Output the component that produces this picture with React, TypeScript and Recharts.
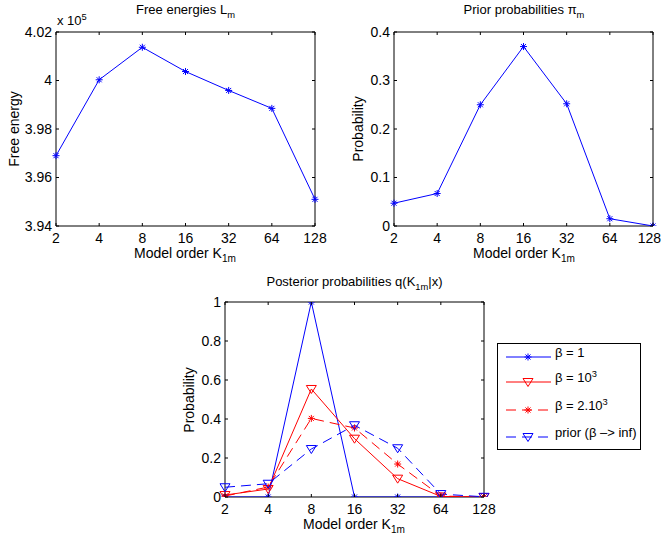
import React from 'react';
import { LineChart, Line, XAxis, YAxis, ReferenceArea, Legend } from 'recharts';

// model orders on the (log2-spaced) x axis
const modelOrders = ['2', '4', '8', '16', '32', '64', '128'];

// free energies, in units of 1e5
const freeEnergies = [3.969, 4.0003, 4.0137, 4.0037, 3.9959, 3.9885, 3.951];
const energyTicks = [3.94, 3.96, 3.98, 4, 4.02];

// prior probabilities pi_m
const priorProbs = [0.047, 0.067, 0.25, 0.37, 0.252, 0.015, 0.0];
const priorTicks = [0, 0.1, 0.2, 0.3, 0.4];

// posterior probabilities q(K|x)
const postBeta1 = [0, 0, 1, 0, 0, 0, 0];
const postBeta1e3 = [0.01, 0.041, 0.554, 0.299, 0.094, 0.003, 0];
const postBeta2e3 = [0.005, 0.051, 0.403, 0.354, 0.169, 0.005, 0];
const postPrior = [0.05, 0.068, 0.246, 0.368, 0.25, 0.015, 0.001];
const postTicks = [0, 0.2, 0.4, 0.6, 0.8, 1];

const BLUE = '#0000ff';
const RED = '#ff0000';
const FONT = '"Liberation Sans", Arial, Helvetica, sans-serif';
const FS = 14;
const TICK_LEN = 3;

const posteriorSeries = [
  { key: 'b1', name: 'β = 1', color: BLUE, dash: undefined, marker: 'star' },
  { key: 'b1e3', name: 'β = 10^{3}', color: RED, dash: undefined, marker: 'tri' },
  { key: 'b2e3', name: 'β = 2.10^{3}', color: RED, dash: '10 6', marker: 'star' },
  { key: 'prior', name: 'prior (β –> inf)', color: BLUE, dash: '10 6', marker: 'tri' },
];

const energyData = modelOrders.map((k, i) => ({ k, L: freeEnergies[i] }));
const priorData = modelOrders.map((k, i) => ({ k, p: priorProbs[i] }));
const postData = modelOrders.map((k, i) => ({
  k,
  b1: postBeta1[i],
  b1e3: postBeta1e3[i],
  b2e3: postBeta2e3[i],
  prior: postPrior[i],
}));

// tex-ish text: _{..} subscript, ^{..} superscript
function rich(text: string, size: number) {
  const parts = text.split(/([_^]\{[^}]*\})/).filter(Boolean);
  let cur = 0;
  return parts.map((p, i) => {
    let target = 0;
    let content = p;
    let fs = size;
    if (p[0] === '_' || p[0] === '^') {
      target = p[0] === '_' ? size * 0.3 : -size * 0.42;
      content = p.slice(2, -1);
      fs = size * 0.72;
    }
    const dy = target - cur;
    cur = target;
    return (
      <tspan key={i} dy={dy} fontSize={fs}>
        {content}
      </tspan>
    );
  });
}

const Star = ({ cx, cy, color }: any) => {
  const r = 3.5;
  const d = r * 0.72;
  return (
    <path
      d={`M${cx - r},${cy}H${cx + r}M${cx},${cy - r}V${cy + r}M${cx - d},${cy - d}L${cx + d},${cy + d}M${cx - d},${cy + d}L${cx + d},${cy - d}`}
      stroke={color}
      strokeWidth={1}
      fill="none"
    />
  );
};

const TriDown = ({ cx, cy, color }: any) => (
  <path d={`M${cx - 5},${cy - 3.5}L${cx + 5},${cy - 3.5}L${cx},${cy + 4.5}Z`} stroke={color} strokeWidth={1} fill="none" />
);

const Marker = ({ kind, ...rest }: any) => (kind === 'star' ? <Star {...rest} /> : <TriDown {...rest} />);

// maxRight: keep the label inside the page edge (chart-local x)
function makeXTick(top: number, bottom: number, maxRight = Infinity) {
  return (props: any) => {
    const { x, payload } = props;
    const half = (String(payload.value).length * 0.556 * FS) / 2;
    const tx = Math.min(x, maxRight - half);
    return (
      <g>
        <line x1={x} x2={x} y1={bottom} y2={bottom - TICK_LEN} stroke="#000" />
        <line x1={x} x2={x} y1={top} y2={top + TICK_LEN} stroke="#000" />
        <text x={tx} y={bottom + 17} textAnchor="middle" fontSize={FS} fontFamily={FONT} fill="#000">
          {payload.value}
        </text>
      </g>
    );
  };
}

function makeYTick(left: number, right: number) {
  return (props: any) => {
    const { y, payload } = props;
    return (
      <g>
        <line x1={left} x2={left + TICK_LEN} y1={y} y2={y} stroke="#000" />
        <line x1={right} x2={right - TICK_LEN} y1={y} y2={y} stroke="#000" />
        <text x={left - 4} y={y} dy="0.35em" textAnchor="end" fontSize={FS} fontFamily={FONT} fill="#000">
          {String(payload.value)}
        </text>
      </g>
    );
  };
}

const legendRows = [14, 39, 67, 94];

const renderLegend = () => (
  <div style={{ width: 144, height: 107, boxSizing: 'border-box', border: '1px solid #000', background: '#fff' }}>
    <svg width={142} height={105} style={{ display: 'block' }}>
      {posteriorSeries.map((s, i) => {
        const y = legendRows[i] - 1;
        return (
          <g key={s.key}>
            <line x1={8} x2={53} y1={y} y2={y} stroke={s.color} strokeDasharray={s.dash} />
            <Marker kind={s.marker} cx={30} cy={y} color={s.color} />
            <text x={57} y={y} dy="0.35em" fontSize={13} fontFamily={FONT} fill="#000">
              {rich(s.name, 13)}
            </text>
          </g>
        );
      })}
    </svg>
  </div>
);

export default function App() {
  // plot-area boxes (chart-local coordinates)
  const tl = { left: 56, right: 315, top: 32, bottom: 226 };
  const tr = { left: 63, right: 322, top: 32, bottom: 226 };
  const bt = { left: 55, right: 314, top: 42, bottom: 237 };

  return (
    <div style={{ position: 'absolute', left: 0, top: 0, width: 662, height: 538, background: '#fff', fontFamily: FONT, overflow: 'hidden' }}>
      <div style={{ position: 'absolute', left: 0, top: 0 }}>
        <LineChart width={331} height={270} data={energyData} margin={{ top: 32, right: 16, bottom: 14, left: 6 }}>
          <XAxis dataKey="k" type="category" height={30} axisLine={false} tickLine={false} tick={makeXTick(tl.top, tl.bottom)} interval={0} />
          <YAxis type="number" width={50} domain={[3.94, 4.02]} ticks={energyTicks} allowDataOverflow axisLine={false} tickLine={false} tick={makeYTick(tl.left, tl.right)} />
          <ReferenceArea y1={3.94} y2={4.02} fill="none" stroke="#000" strokeWidth={1} fillOpacity={0} />
          <Line type="linear" dataKey="L" stroke={BLUE} strokeWidth={1} isAnimationActive={false} activeDot={false}
            dot={(p: any) => <Marker key={p.index} kind="star" cx={p.cx} cy={p.cy} color={BLUE} />} />
        </LineChart>
      </div>

      <div style={{ position: 'absolute', left: 331, top: 0 }}>
        <LineChart width={345} height={270} data={priorData} margin={{ top: 32, right: 23, bottom: 14, left: 13 }}>
          <XAxis dataKey="k" type="category" height={30} axisLine={false} tickLine={false} tick={makeXTick(tr.top, tr.bottom, 330)} interval={0} />
          <YAxis type="number" width={50} domain={[0, 0.4]} ticks={priorTicks} allowDataOverflow axisLine={false} tickLine={false} tick={makeYTick(tr.left, tr.right)} />
          <ReferenceArea y1={0} y2={0.4} fill="none" stroke="#000" strokeWidth={1} fillOpacity={0} />
          <Line type="linear" dataKey="p" stroke={BLUE} strokeWidth={1} isAnimationActive={false} activeDot={false}
            dot={(p: any) => <Marker key={p.index} kind="star" cx={p.cx} cy={p.cy} color={BLUE} />} />
        </LineChart>
      </div>

      <div style={{ position: 'absolute', left: 170, top: 260 }}>
        <LineChart width={480} height={278} data={postData} margin={{ top: 42, right: 166, bottom: 11, left: 5 }}>
          <XAxis dataKey="k" type="category" height={30} axisLine={false} tickLine={false} tick={makeXTick(bt.top, bt.bottom)} interval={0} />
          <YAxis type="number" width={50} domain={[0, 1]} ticks={postTicks} allowDataOverflow axisLine={false} tickLine={false} tick={makeYTick(bt.left, bt.right)} />
          <ReferenceArea y1={0} y2={1} fill="none" stroke="#000" strokeWidth={1} fillOpacity={0} />
          {posteriorSeries.map((s) => (
            <Line
              key={s.key}
              type="linear"
              dataKey={s.key}
              name={s.name}
              stroke={s.color}
              strokeWidth={1}
              strokeDasharray={s.dash}
              isAnimationActive={false}
              activeDot={false}
              dot={(p: any) => <Marker key={p.index} kind={s.marker} cx={p.cx} cy={p.cy} color={s.color} />}
            />
          ))}
          <Legend
            layout="horizontal"
            verticalAlign="middle"
            align="center"
            content={renderLegend}
            wrapperStyle={{ left: 327, top: 83, width: 144, height: 107 }}
          />
        </LineChart>
      </div>

      {/* titles and axis labels */}
      <svg width={662} height={538} style={{ position: 'absolute', left: 0, top: 0, pointerEvents: 'none' }} fontFamily={FONT} fill="#000">
        <text x={185.5} y={14} textAnchor="middle" fontSize={13}>{rich('Free energies L_{m}', 13)}</text>
        <text x={57} y={25} fontSize={13}>{rich('x 10^{5}', 13)}</text>
        <text transform="translate(19,129) rotate(-90)" textAnchor="middle" fontSize={FS}>Free energy</text>
        <text x={134} y={258} fontSize={FS}>{rich('Model order K_{1m}', FS)}</text>

        <text x={524} y={14} textAnchor="middle" fontSize={13}>{rich('Prior probabilities π_{m}', 13)}</text>
        <text transform="translate(363,129) rotate(-90)" textAnchor="middle" fontSize={FS}>Probability</text>
        <text x={473} y={258} fontSize={FS}>{rich('Model order K_{1m}', FS)}</text>

        <text x={354.5} y={286} textAnchor="middle" fontSize={13}>{rich('Posterior probabilities q(K_{1m}|x)', 13)}</text>
        <text transform="translate(194,400) rotate(-90)" textAnchor="middle" fontSize={FS}>Probability</text>
        <text x={303} y={529} fontSize={FS}>{rich('Model order K_{1m}', FS)}</text>
      </svg>
    </div>
  );
}
